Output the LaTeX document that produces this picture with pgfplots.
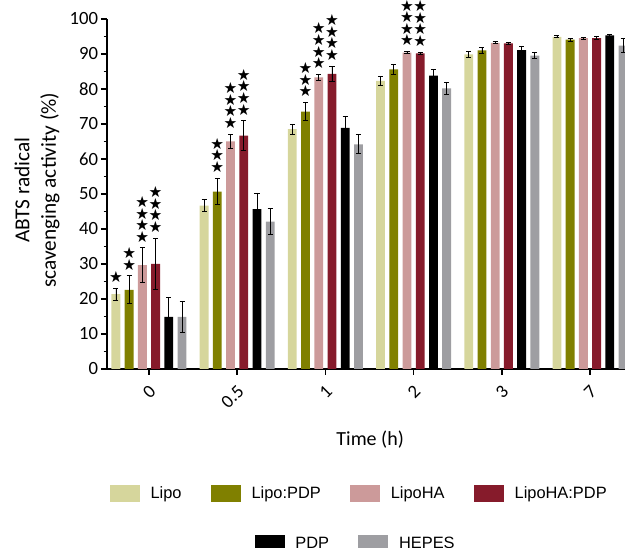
\documentclass[border=0pt]{standalone}
\usepackage{fontspec}
\usepackage{pgfplots}
\usepackage{pgfplotstable}
\pgfplotsset{compat=1.18}
\setmainfont{Carlito}
\newfontfamily\legfont{Liberation Sans}
\newfontfamily\starfont{DejaVu Sans}

\definecolor{clipo}{HTML}{D6D69C}
\definecolor{clipopdp}{HTML}{808000}
\definecolor{clipoha}{HTML}{CC9A9A}
\definecolor{clipohapdp}{HTML}{861B2B}
\definecolor{cpdp}{HTML}{000000}
\definecolor{chepes}{HTML}{9E9EA2}

% x = group index (0, 0.5, 1, 2, 3, 7 h), y = mean, e = error, s = number of stars
\pgfplotstableread{
x y e s
0 21.4 1.7 1
1 46.7 1.8 0
2 68.5 1.5 0
3 82.3 1.4 0
4 89.9 0.8 0
5 94.9 0.3 0
}\lipo
\pgfplotstableread{
x y e s
0 22.6 4.0 2
1 50.7 3.8 3
2 73.5 2.6 3
3 85.6 1.3 0
4 91.0 0.85 0
5 94.1 0.4 0
}\lipopdp
\pgfplotstableread{
x y e s
0 29.7 4.9 4
1 65.0 2.1 4
2 83.3 0.9 4
3 90.4 0.3 4
4 93.2 0.3 0
5 94.5 0.3 0
}\lipoha
\pgfplotstableread{
x y e s
0 30.0 7.4 4
1 66.7 4.2 4
2 84.3 2.2 4
3 90.2 0.3 4
4 93.0 0.3 0
5 94.5 0.4 0
}\lipohapdp
\pgfplotstableread{
x y e s
0 14.9 5.6 0
1 45.7 4.6 0
2 68.9 3.3 0
3 83.8 1.8 0
4 91.1 1.0 0
5 95.3 0.3 0
}\pdp
\pgfplotstableread{
x y e s
0 14.9 4.4 0
1 42.1 3.7 0
2 64.2 2.7 0
3 80.2 1.7 0
4 89.5 0.85 0
5 92.4 2.0 0
}\hepes

\newcommand\st{★}
\newcommand\starstack[1]{\ifcase#1\or\st\or\st\\\st\or\st\\\st\\\st\or\st\\\st\\\st\\\st\fi}

\pgfplotsset{
  barstyle/.style={ybar, bar width=0.1, bar shift=0pt, draw=none,
    error bars/y dir=both, error bars/y explicit,
    error bars/error bar style={black, line width=0.6pt},
    error bars/error mark options={black, rotate=90, mark size=1.9pt, line width=0.6pt}},
  starstyle/.style={draw=none, mark=none, forget plot,
    point meta=explicit symbolic,
    nodes near coords={\starstack{\pgfplotspointmeta}},
    every node near coord/.append style={anchor=south, inner sep=0pt, yshift=4pt,
      align=center, font=\starfont\fontsize{11.5}{8.7}\selectfont}},
  squarelegend/.style={
    legend image code/.code={\fill[##1] (0pt,-6.4pt) rectangle (22.5pt,6.4pt);},
    legend style={draw=none, fill=none, font=\legfont\fontsize{12.3}{14}\selectfont,
      anchor=center, legend columns=-1,
      /tikz/every odd column/.append style={column sep=5pt},
      /tikz/every even column/.append style={column sep=19pt},
      nodes={inner sep=3pt}}},
}

\begin{document}
\begin{tikzpicture}
\path[use as bounding box] (-80.25pt,-134.25pt) rectangle (388.5pt,276.75pt);
\begin{axis}[
  at={(0,0)}, anchor=south west,
  scale only axis, width=388.5pt, height=262.5pt,
  xmin=-0.476, xmax=5.397, ymin=0, ymax=100,
  clip=false,
  axis lines*=left,
  axis line style={line width=1.1pt},
  xtick={0,...,5}, xticklabels={0,0.5,1,2,3,7},
  ytick={0,10,...,100}, minor y tick num=1,
  tick align=outside,
  major tick length=4.5pt, minor tick length=2.5pt,
  tick style={black, line width=1.1pt},
  /pgf/number format/assume math mode=true,
  tick label style={font=\fontsize{14}{16}\selectfont},
  yticklabel style={inner sep=2pt},
  xticklabel style={rotate=45, anchor=east, inner sep=2pt, yshift=-9pt, xshift=-3pt},
  xlabel={Time (h)},
  xlabel style={at={(axis description cs:0.508,-0.2029)}, anchor=center,
    font=\fontsize{15}{18}\selectfont},
  ylabel={ABTS radical\\scavenging activity (\%)},
  ylabel style={at={(axis description cs:-0.135,0.511)}, anchor=center, align=center,
    font=\fontsize{16}{20}\selectfont},
  squarelegend,
  legend style={at={(axis description cs:0.489,-0.3557)}},
]
\addplot[barstyle, fill=clipo] table[x expr=\thisrow{x}-0.375, y=y, y error=e] {\lipo};
\addlegendentry{Lipo}
\addplot[barstyle, fill=clipopdp] table[x expr=\thisrow{x}-0.225, y=y, y error=e] {\lipopdp};
\addlegendentry{Lipo:PDP}
\addplot[barstyle, fill=clipoha] table[x expr=\thisrow{x}-0.075, y=y, y error=e] {\lipoha};
\addlegendentry{LipoHA}
\addplot[barstyle, fill=clipohapdp] table[x expr=\thisrow{x}+0.075, y=y, y error=e] {\lipohapdp};
\addlegendentry{LipoHA:PDP}
\addplot[barstyle, fill=cpdp] table[x expr=\thisrow{x}+0.225, y=y, y error=e] {\pdp};
\addplot[barstyle, fill=chepes] table[x expr=\thisrow{x}+0.375, y=y, y error=e] {\hepes};

\addplot[starstyle] table[x expr=\thisrow{x}-0.375, y expr=\thisrow{y}+\thisrow{e}, meta=s] {\lipo};
\addplot[starstyle] table[x expr=\thisrow{x}-0.225, y expr=\thisrow{y}+\thisrow{e}, meta=s] {\lipopdp};
\addplot[starstyle] table[x expr=\thisrow{x}-0.075, y expr=\thisrow{y}+\thisrow{e}, meta=s] {\lipoha};
\addplot[starstyle] table[x expr=\thisrow{x}+0.075, y expr=\thisrow{y}+\thisrow{e}, meta=s] {\lipohapdp};
\end{axis}
\begin{axis}[
  at={(0,0)}, anchor=south west,
  scale only axis, width=388.5pt, height=262.5pt,
  xmin=0, xmax=1, ymin=0, ymax=1, hide axis,
  squarelegend,
  legend style={at={(axis description cs:0.482,-0.5)}},
]
\addlegendimage{fill=cpdp, draw=none}
\addlegendentry{PDP}
\addlegendimage{fill=chepes, draw=none}
\addlegendentry{HEPES}
\end{axis}
\end{tikzpicture}
\end{document}
